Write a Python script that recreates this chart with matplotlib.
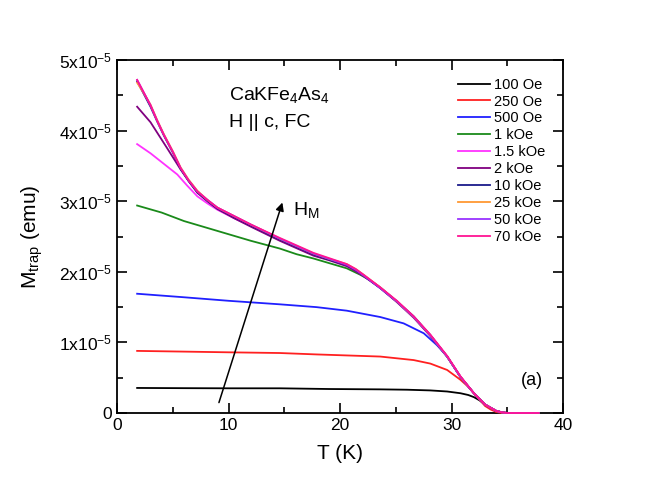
import numpy as np
import matplotlib
matplotlib.use('Agg')
import matplotlib.pyplot as plt

plt.rcParams['font.family'] = ['Liberation Sans', 'DejaVu Sans']
plt.rcParams['mathtext.fontset'] = 'custom'
plt.rcParams['mathtext.rm'] = 'Liberation Sans'
plt.rcParams['mathtext.it'] = 'Liberation Sans'

# data, M in units of 1e-5 emu
T_100 = [1.8, 6, 10, 14.6, 19, 23.6, 26, 28.1, 29.6, 30.8, 31.5, 32, 32.5, 33, 33.5, 34, 34.5, 35, 37.8]
M_100 = [0.355, 0.352, 0.35, 0.35, 0.34, 0.335, 0.33, 0.32, 0.305, 0.28, 0.255, 0.225, 0.18, 0.12, 0.07, 0.03, 0.01, 0.0, 0.0]

T_250 = [1.8, 6, 10, 14.6, 17.9, 23.6, 26.6, 28.1, 29.6, 30.8, 31.5, 32, 32.5, 33, 33.5, 34, 34.5, 35, 37.8]
M_250 = [0.88, 0.87, 0.86, 0.85, 0.83, 0.80, 0.75, 0.70, 0.61, 0.47, 0.37, 0.28, 0.19, 0.10, 0.05, 0.015, 0.0, 0.0, 0.0]

T_500 = [1.8, 6, 10, 14.6, 17.9, 20.6, 23.6, 25.7, 27.5, 28.7, 29.6, 30.8, 32, 33, 34, 34.5, 35, 37.8]
M_500 = [1.69, 1.64, 1.59, 1.54, 1.50, 1.45, 1.36, 1.27, 1.13, 0.96, 0.80, 0.51, 0.28, 0.12, 0.03, 0.01, 0.0, 0.0]

T_1k = [1.8, 4, 6, 9, 12, 14.6, 16.1, 17.6, 19.1, 20.6, 21.8, 22.7, 23.6, 25.1, 26.6, 28.1, 29.6, 30.8, 32, 33, 34, 34.5, 35, 37.8]
M_1k = [2.94, 2.84, 2.72, 2.58, 2.44, 2.33, 2.25, 2.19, 2.12, 2.05, 1.96, 1.88, 1.78, 1.58, 1.36, 1.10, 0.80, 0.51, 0.28, 0.12, 0.03, 0.01, 0.0, 0.0]

T_1p5k = [1.8, 3.0, 4.2, 5.4, 6.3, 7.2, 8.1, 9.0, 10.5, 12, 14.6, 17.6, 19.1, 20.6, 21.4, 22.1, 23.6, 25.1, 26.6, 28.1, 29.6, 30.8, 32, 33, 34, 34.5, 35, 37.8]
M_1p5k = [3.81, 3.68, 3.53, 3.38, 3.22, 3.07, 2.97, 2.88, 2.76, 2.65, 2.45, 2.25, 2.18, 2.09, 2.02, 1.95, 1.78, 1.58, 1.36, 1.10, 0.80, 0.51, 0.28, 0.12, 0.03, 0.01, 0.0, 0.0]

T_2k = [1.8, 3.0, 4.5, 5.7, 6.5, 7.2, 8.1, 9.0, 10.5, 12, 14.6, 17.6, 19.1, 20.6, 21.4, 22.1, 23.6, 25.1, 26.6, 28.1, 29.6, 30.8, 32, 33, 34, 34.5, 35, 37.8]
M_2k = [4.34, 4.12, 3.75, 3.45, 3.27, 3.12, 3.00, 2.89, 2.76, 2.64, 2.44, 2.23, 2.16, 2.08, 2.01, 1.94, 1.77, 1.57, 1.35, 1.09, 0.80, 0.51, 0.28, 0.12, 0.03, 0.01, 0.0, 0.0]

T_hi = [1.8, 2.4, 3.0, 3.6, 4.2, 5.0, 5.7, 6.4, 7.2, 8.1, 9.0, 10.5, 12.0, 14.6, 17.6, 19.1, 20.6, 21.4, 22.1, 23.6, 25.1, 26.6, 28.1, 29.6, 30.8, 32.0, 33.0, 34.0, 34.5, 35.0, 37.8]
M_10k = [4.70, 4.52, 4.34, 4.13, 3.93, 3.69, 3.46, 3.29, 3.13, 3.01, 2.90, 2.78, 2.66, 2.46, 2.25, 2.17, 2.10, 2.03, 1.95, 1.77, 1.58, 1.37, 1.10, 0.80, 0.51, 0.28, 0.12, 0.03, 0.01, 0.0, 0.0]
M_25k = [4.68, 4.53, 4.37, 4.15, 3.95, 3.71, 3.48, 3.31, 3.15, 3.02, 2.91, 2.79, 2.67, 2.47, 2.26, 2.18, 2.11, 2.04, 1.96, 1.78, 1.58, 1.36, 1.10, 0.80, 0.51, 0.28, 0.12, 0.03, 0.01, 0.0, 0.0]
M_50k = [4.72, 4.54, 4.36, 4.14, 3.94, 3.70, 3.47, 3.30, 3.14, 3.02, 2.91, 2.79, 2.67, 2.47, 2.26, 2.18, 2.10, 2.03, 1.95, 1.77, 1.58, 1.36, 1.10, 0.80, 0.51, 0.28, 0.12, 0.03, 0.01, 0.0, 0.0]
M_70k = [4.72, 4.54, 4.36, 4.14, 3.94, 3.70, 3.47, 3.30, 3.14, 3.02, 2.91, 2.79, 2.67, 2.48, 2.27, 2.19, 2.11, 2.04, 1.96, 1.78, 1.59, 1.37, 1.11, 0.81, 0.52, 0.28, 0.12, 0.03, 0.01, 0.0, 0.0]

labels = ['100 Oe', '250 Oe', '500 Oe', '1 kOe', '1.5 kOe', '2 kOe', '10 kOe', '25 kOe', '50 kOe', '70 kOe']
colors = ['black', '#ff2020', '#2020ff', '#1a8a1a', '#ff33ff', '#800080', '#1a1a8a', '#ff9933', '#9933ff', '#ff1493']
series = [(T_100, M_100), (T_250, M_250), (T_500, M_500), (T_1k, M_1k), (T_1p5k, M_1p5k),
          (T_2k, M_2k), (T_hi, M_10k), (T_hi, M_25k), (T_hi, M_50k), (T_hi, M_70k)]

fig = plt.figure(figsize=(6.54, 4.97), dpi=100)
ax = fig.add_axes([0.179, 0.169, 0.682, 0.710])

for (t, m), lab, c in zip(series, labels, colors):
    ax.plot(t, np.array(m) * 1e-5, color=c, lw=1.3, label=lab, clip_on=False, zorder=3)

ax.set_xlim(0, 40)
ax.set_ylim(0, 5e-5)
ax.set_xticks([0, 10, 20, 30, 40])
ax.set_xticks([5, 15, 25, 35], minor=True)
yt = [0, 1e-5, 2e-5, 3e-5, 4e-5, 5e-5]
ax.set_yticks(yt)
ax.set_yticklabels(['0'] + [r'%dx10$^{-5}$' % i for i in range(1, 6)])
ax.set_yticks([0.5e-5, 1.5e-5, 2.5e-5, 3.5e-5, 4.5e-5], minor=True)
ax.tick_params(which='both', direction='in', top=True, right=True, labelsize=12.5, width=1.2)
ax.tick_params(which='major', length=7)
ax.tick_params(which='minor', length=4)
for s in ax.spines.values():
    s.set_linewidth(1.3)
    s.set_zorder(2)

ax.set_xlabel('T (K)', fontsize=15, labelpad=8)
ax.set_ylabel(r'M$_{\rm trap}$ (emu)', fontsize=15, labelpad=10)

ax.text(10, 4.43e-5, r'CaKFe$_4$As$_4$', fontsize=14)
ax.text(10, 4.05e-5, 'H || c, FC', fontsize=14)
ax.annotate('', xy=(14.9, 3.02e-5), xytext=(9.06, 0.11e-5),
            arrowprops=dict(arrowstyle='-|>', color='black', lw=1.1, mutation_scale=12))
ax.text(15.8, 2.8e-5, r'H$_{\rm M}$', fontsize=14)
ax.text(36.2, 0.4e-5, '(a)', fontsize=13)

ax.legend(loc='upper right', frameon=False, fontsize=10.5, handlelength=2.2,
          labelspacing=0.2, handletextpad=0.3, borderaxespad=0.8)

fig.savefig('out.png', dpi=100)
